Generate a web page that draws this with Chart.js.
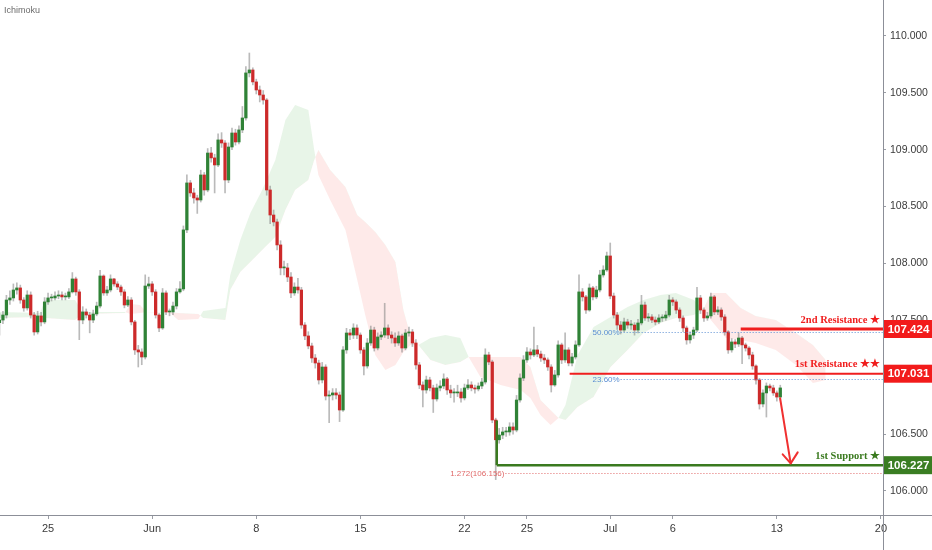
<!DOCTYPE html>
<html>
<head>
<meta charset="utf-8">
<script src="https://cdn.jsdelivr.net/npm/chart.js@4.4.1/dist/chart.umd.min.js"></script>
<style>
html,body{margin:0;padding:0;background:#fff;}
#wrap{width:932px;height:550px;position:relative;}
</style>
</head>
<body>
<div id="wrap"><canvas id="c"></canvas></div>
<script>
// ---------- DATA ----------
// candle index: 6 four-hour candles per trading day, index 0 = Mon 25 May
const firstCandle = -14;
const firstOpen = 107.48;
const closes = [
107.503,107.547,107.679,107.697,107.767,107.785,107.679,107.609,107.723,107.547,
107.398,107.539,107.486,107.662,
107.697,107.697,107.714,107.723,107.706,107.706,107.750,107.864,107.750,107.503,
107.574,107.547,107.503,107.556,107.626,107.890,107.741,107.767,107.864,107.820,
107.793,107.750,107.635,107.679,107.486,107.240,107.222,107.178,107.802,107.820,
107.750,107.547,107.433,107.741,107.574,107.574,107.626,107.750,107.776,108.295,
108.708,108.620,108.576,108.558,108.778,108.646,108.971,108.928,108.866,109.086,
109.059,108.734,109.024,109.147,109.068,109.174,109.279,109.675,109.701,109.596,
109.525,109.481,109.437,108.646,108.426,108.365,108.163,107.961,107.961,107.881,
107.741,107.793,107.767,107.459,107.363,107.275,107.169,107.125,106.976,107.090,
106.835,106.844,106.862,106.844,106.712,107.240,107.389,107.371,107.433,107.371,
107.240,107.099,107.301,107.415,107.257,107.354,107.371,107.433,107.371,107.345,
107.301,107.363,107.257,107.389,107.398,107.301,107.108,106.932,106.888,106.976,
106.906,106.809,106.906,106.923,106.985,106.888,106.862,106.862,106.870,106.818,
106.906,106.932,106.906,106.897,106.923,106.958,107.196,107.134,106.624,106.450,
106.492,106.519,106.519,106.563,106.536,106.800,106.993,107.152,107.222,107.196,
107.240,107.204,107.169,107.152,107.090,106.932,107.020,107.284,107.152,107.240,
107.125,107.178,107.284,107.750,107.706,107.591,107.785,107.706,107.767,107.899,
107.943,108.066,107.714,107.547,107.459,107.415,107.486,107.459,107.459,107.415,
107.477,107.635,107.521,107.530,107.503,107.486,107.521,107.521,107.547,107.679,
107.662,107.591,107.521,107.433,107.328,107.371,107.415,107.697,107.591,107.521,
107.539,107.706,107.574,107.591,107.530,107.398,107.240,107.310,107.292,107.345,
107.284,107.257,107.196,107.099,106.976,106.765,106.862,106.923,106.906,106.862,
106.826,106.906
];
const highs = [
107.56,107.58,107.72,107.76,107.82,107.83,107.81,107.70,107.76,107.75,107.57,107.58,107.57,107.70,
107.74,107.73,107.75,107.76,107.75,107.74,107.78,107.92,107.88,107.77,
107.62,107.60,107.57,107.59,107.66,107.94,107.90,107.80,107.90,107.87,
107.84,107.81,107.77,107.71,107.70,107.50,107.28,107.25,107.90,107.88,
107.84,107.77,107.56,107.78,107.76,107.60,107.66,107.78,107.84,108.33,
108.78,108.73,108.66,108.60,108.82,108.80,109.01,109.02,108.96,109.14,
109.15,109.08,109.06,109.19,109.18,109.21,109.38,109.73,109.85,109.72,
109.62,109.56,109.52,109.45,108.68,108.47,108.39,108.20,108.02,108.00,
107.92,107.83,107.87,107.79,107.48,107.40,107.30,107.20,107.15,107.13,
107.11,106.88,106.90,106.90,106.87,107.27,107.43,107.42,107.47,107.46,
107.39,107.26,107.34,107.45,107.44,107.39,107.40,107.65,107.46,107.40,
107.39,107.40,107.38,107.42,107.44,107.42,107.33,107.13,106.96,107.01,
107.00,106.93,106.94,106.97,107.03,107.00,106.93,106.90,106.93,106.90,
106.94,106.98,106.96,106.93,106.95,106.99,107.25,107.22,107.15,106.64,
106.55,106.56,106.56,106.60,106.60,106.84,107.03,107.19,107.26,107.25,
107.44,107.28,107.23,107.20,107.17,107.11,107.06,107.32,107.30,107.39,
107.26,107.21,107.32,107.90,107.78,107.72,107.82,107.80,107.80,107.94,
107.98,108.10,108.18,107.74,107.57,107.49,107.52,107.51,107.50,107.48,
107.51,107.72,107.66,107.56,107.55,107.53,107.55,107.55,107.58,107.72,
107.70,107.68,107.61,107.54,107.45,107.40,107.44,107.79,107.72,107.61,
107.57,107.74,107.72,107.62,107.61,107.55,107.41,107.34,107.33,107.39,
107.36,107.30,107.27,107.22,107.11,106.99,106.89,106.95,106.94,106.93,
106.88,106.93
];
const lows = [
107.37,107.47,107.52,107.64,107.67,107.73,107.65,107.58,107.59,107.52,107.37,107.38,107.45,107.47,
107.64,107.67,107.68,107.69,107.68,107.68,107.69,107.74,107.72,107.33,
107.47,107.52,107.39,107.48,107.54,107.61,107.72,107.72,107.75,107.80,
107.77,107.72,107.61,107.62,107.46,107.20,107.09,107.11,107.16,107.78,
107.72,107.52,107.40,107.42,107.55,107.54,107.55,107.60,107.74,107.76,
108.27,108.59,108.53,108.44,108.54,108.60,108.63,108.89,108.62,108.85,
109.02,108.62,108.71,109.00,109.04,109.05,109.15,109.26,109.64,109.57,
109.49,109.42,109.40,108.60,108.35,108.33,108.12,107.90,107.90,107.84,
107.70,107.72,107.74,107.43,107.33,107.25,107.13,107.08,106.94,106.95,
106.80,106.60,106.80,106.81,106.61,106.70,107.21,107.33,107.34,107.34,
107.21,107.02,107.08,107.28,107.23,107.24,107.33,107.35,107.34,107.30,
107.27,107.28,107.22,107.24,107.36,107.27,107.07,106.90,106.74,106.86,
106.88,106.69,106.79,106.88,106.90,106.85,106.82,106.78,106.83,106.78,
106.80,106.89,106.88,106.86,106.88,106.90,106.94,107.11,106.60,106.10,
106.42,106.46,106.48,106.49,106.50,106.52,106.78,106.97,107.13,107.16,
107.18,107.18,107.14,107.12,107.06,106.87,106.92,107.00,107.12,107.13,
107.10,107.10,107.16,107.27,107.67,107.56,107.58,107.68,107.69,107.75,
107.88,107.93,107.69,107.52,107.42,107.38,107.40,107.43,107.42,107.37,
107.39,107.46,107.50,107.49,107.48,107.46,107.47,107.49,107.50,107.53,
107.63,107.56,107.49,107.40,107.29,107.30,107.34,107.40,107.56,107.49,
107.50,107.52,107.55,107.55,107.50,107.37,107.21,107.22,107.26,107.27,
107.12,107.23,107.16,107.07,106.94,106.72,106.74,106.65,106.88,106.84,
106.79,106.80
];

// Ichimoku cloud (time in candle index units)
const cloudTime = [-13.85,-2.3,-0.9,7.8,9.8,22.2,23.7,26.5,28.3,35.2,37.5,43.3,44.7,51.1,52.5,55.4,58.3,61.7,65.5,68.4,71.2,75.0,76.7,77.9,81.3,85.7,89.1,91.4,94.3,97.2,100.1,102.4,104.4,106.7,110.2,114.5,118.8,121.2,124.6,130.4,136.2,139.0,141.9,144.8,147.1,149.1,152.6,157.2,162.1,167.0,171.6,176.5,180.9,186.1,188.9,191.0,195.3,199.6,203.9,209.7,215.5,220.4,224.1];
const spanA = [107.574,107.565,107.679,107.679,107.574,107.574,107.556,107.565,107.574,107.565,107.503,107.512,107.583,107.609,107.899,108.207,108.444,108.646,108.910,109.262,109.393,109.349,108.998,108.778,108.558,108.295,107.855,107.547,107.196,107.064,107.108,107.222,107.284,107.284,107.345,107.371,107.345,107.178,107.002,106.932,106.888,106.818,106.668,106.580,106.642,106.756,107.196,107.442,107.530,107.618,107.679,107.723,107.741,107.679,107.600,107.503,107.345,107.328,107.301,107.240,107.108,106.950,106.976];
const spanB = [107.521,107.530,107.521,107.503,107.556,107.565,107.644,107.635,107.574,107.574,107.565,107.556,107.521,107.503,107.767,107.925,108.013,108.119,108.233,108.470,108.646,108.734,108.910,108.998,108.822,108.673,108.426,108.365,108.277,108.163,108.013,107.591,107.371,107.284,107.152,107.108,107.134,107.178,107.178,107.178,107.178,107.090,106.800,106.712,106.642,106.624,106.738,106.826,107.090,107.240,107.389,107.477,107.521,107.547,107.600,107.741,107.741,107.609,107.539,107.503,107.389,107.284,107.152];

// axis ticks
const xTickValues = [0,30,60,90,120,138,162,180,210,240];
const xTickLabels = ['25','Jun','8','15','22','25','Jul','6','13','20'];
const yTickValues = [106,106.5,107,107.5,108,108.5,109,109.5,110];

// drawn levels
const levelNames = ['2nd Resistance \u2605','1st Resistance \u2605\u2605','1st Support \u2605'];
const levelValues = [107.424,107.031,106.227];
const levelStart = [199.6,150.3,129.3];
const supportLegTop = 106.62;
const fibLabels = ['50.00%','23.60%','1.272(106.156)'];
const fibValues = [107.40,106.985,106.156];
const fibStart = [165,165,131.8];
const arrowFrom = [210.95,106.815];
const arrowTo = [214.0,106.243];

// ---------- BUILD ----------
const opens = closes.map((c,i)=> i===0 ? firstOpen : closes[i-1]);
const UP='#2f8236', DOWN='#cc2a2a';
const bodyData = closes.map((c,i)=>({x:firstCandle+i, y:[opens[i], c]}));
const bodyColors = closes.map((c,i)=> c>=opens[i] ? UP : DOWN);
const wickData = closes.map((c,i)=>({x:firstCandle+i, y:[lows[i], highs[i]]}));
const aData = cloudTime.map((t,i)=>({x:t,y:spanA[i]}));
const bData = cloudTime.map((t,i)=>({x:t,y:spanB[i]}));

const LEVEL_COLORS = ['#f01e1e','#f01e1e','#3a7a1f'];
const LEVEL_WIDTHS = [3,2,2.5];
const FIB_COLORS = ['#5b8fd3','#5b8fd3','#e06868'];

const overlay = {
  id:'overlay',
  afterDatasetsDraw(chart){
    const {ctx, chartArea:a, scales:{x,y}} = chart;
    ctx.save();
    ctx.beginPath(); ctx.rect(a.left,a.top,a.right-a.left,a.bottom-a.top); ctx.clip();
    ctx.font = '8px "Liberation Sans", Arial, sans-serif';
    ctx.textBaseline = 'middle';
    fibValues.forEach((v,i)=>{
      const py = Math.round(y.getPixelForValue(v))+0.5;
      const px = x.getPixelForValue(fibStart[i]);
      ctx.strokeStyle = FIB_COLORS[i]; ctx.lineWidth = 1; ctx.setLineDash([1,2]);
      ctx.beginPath(); ctx.moveTo(px,py); ctx.lineTo(a.right,py); ctx.stroke();
      ctx.setLineDash([]);
      ctx.fillStyle = FIB_COLORS[i]; ctx.textAlign='right';
      ctx.fillText(fibLabels[i], px-1, py);
    });
    levelValues.forEach((v,i)=>{
      const py = y.getPixelForValue(v);
      const px = x.getPixelForValue(levelStart[i]);
      ctx.strokeStyle = LEVEL_COLORS[i]; ctx.lineWidth = LEVEL_WIDTHS[i];
      ctx.beginPath(); ctx.moveTo(px,py); ctx.lineTo(a.right,py); ctx.stroke();
      ctx.font = 'bold 10.5px "Liberation Serif", "DejaVu Serif", serif';
      ctx.fillStyle = LEVEL_COLORS[i]; ctx.textAlign='right'; ctx.textBaseline='middle';
      ctx.fillText(levelNames[i], a.right-3, py-9);
    });
    {
      const px = x.getPixelForValue(levelStart[2]);
      ctx.strokeStyle = LEVEL_COLORS[2]; ctx.lineWidth = 2.5;
      ctx.beginPath(); ctx.moveTo(px, y.getPixelForValue(levelValues[2])); ctx.lineTo(px, y.getPixelForValue(supportLegTop)); ctx.stroke();
    }
    {
      const x1 = x.getPixelForValue(arrowFrom[0]), y1 = y.getPixelForValue(arrowFrom[1]);
      const x2 = x.getPixelForValue(arrowTo[0]), y2 = y.getPixelForValue(arrowTo[1]);
      ctx.strokeStyle = '#f03030'; ctx.lineWidth = 2; ctx.lineCap='round'; ctx.lineJoin='round';
      ctx.beginPath(); ctx.moveTo(x1,y1); ctx.lineTo(x2,y2); ctx.stroke();
      ctx.beginPath(); ctx.moveTo(x2-8,y2-9); ctx.lineTo(x2,y2); ctx.lineTo(x2+7,y2-11); ctx.stroke();
    }
    ctx.restore();
  },
  afterDraw(chart){
    const {ctx, chartArea:a, scales:{y}, width:W, height:H} = chart;
    ctx.save();
    ctx.strokeStyle = '#8c8f98'; ctx.lineWidth = 1;
    ctx.beginPath(); ctx.moveTo(0, Math.round(a.bottom)+0.5); ctx.lineTo(W, Math.round(a.bottom)+0.5); ctx.stroke();
    ctx.beginPath(); ctx.moveTo(Math.round(a.right)+0.5, 0); ctx.lineTo(Math.round(a.right)+0.5, H); ctx.stroke();
    const BOX = ['#f21b1b','#f21b1b','#3a7d22'];
    levelValues.forEach((v,i)=>{
      const py = y.getPixelForValue(v);
      ctx.fillStyle = BOX[i];
      ctx.fillRect(a.right+1, py-9, W-a.right-1, 18);
      ctx.fillStyle = '#fff'; ctx.font = 'bold 11.5px "Liberation Sans", Arial, sans-serif';
      ctx.textAlign='center'; ctx.textBaseline='middle';
      ctx.fillText(v.toFixed(3), (a.right+W)/2+1, py+0.5);
    });
    ctx.fillStyle = '#6b6b6b'; ctx.font = '9px "Liberation Sans", Arial, sans-serif';
    ctx.textAlign='left'; ctx.textBaseline='middle';
    ctx.fillText('Ichimoku', 4, 11);
    ctx.restore();
  }
};

new Chart(document.getElementById('c'), {
  type:'bar',
  data:{datasets:[
    {type:'line', data:aData, borderColor:'rgba(0,0,0,0)', borderWidth:0, pointRadius:0, tension:0,
     fill:{target:1, above:'rgba(76,175,80,0.13)', below:'rgba(244,67,54,0.11)'}, order:10},
    {type:'line', data:bData, borderColor:'rgba(0,0,0,0)', borderWidth:0, pointRadius:0, tension:0, fill:false, order:9},
    {type:'bar', data:wickData, backgroundColor:'rgba(130,130,130,0.55)', barThickness:1, grouped:false, order:5},
    {type:'bar', data:bodyData, backgroundColor:bodyColors, barThickness:2.6, minBarLength:1, grouped:false, order:1}
  ]},
  options:{
    responsive:true, maintainAspectRatio:false, animation:false, devicePixelRatio:1,
    layout:{padding:0},
    plugins:{legend:{display:false}, tooltip:{enabled:false}},
    scales:{
      x:{type:'linear', min:-13.85, max:240.6, offset:false,
        afterBuildTicks:(s)=>{ s.ticks = xTickValues.map(v=>({value:v})); },
        afterFit:(s)=>{ s.height = 35; s.paddingLeft = 0; s.paddingRight = 0; },
        grid:{drawOnChartArea:false, drawTicks:true, tickLength:4, color:'#9a9da5', offset:false},
        border:{display:false},
        ticks:{autoSkip:false, maxRotation:0, padding:3, color:'#3a3a3a',
          font:{family:'"Liberation Sans", Arial, sans-serif', size:11},
          callback:(v)=>{ const i = xTickValues.indexOf(v); return i>=0 ? xTickLabels[i] : ''; }}
      },
      y:{type:'linear', position:'right', min:105.789, max:110.316,
        afterBuildTicks:(s)=>{ s.ticks = yTickValues.map(v=>({value:v})); },
        afterFit:(s)=>{ s.width = 49; s.paddingTop = 0; s.paddingBottom = 0; },
        grid:{drawOnChartArea:false, drawTicks:true, tickLength:3, color:'#9a9da5'},
        border:{display:false},
        ticks:{padding:4, color:'#3a3a3a', font:{family:'"Liberation Sans", Arial, sans-serif', size:10.5},
          callback:(v)=>Number(v).toFixed(3)}
      }
    }
  },
  plugins:[overlay]
});
</script>
</body>
</html>
